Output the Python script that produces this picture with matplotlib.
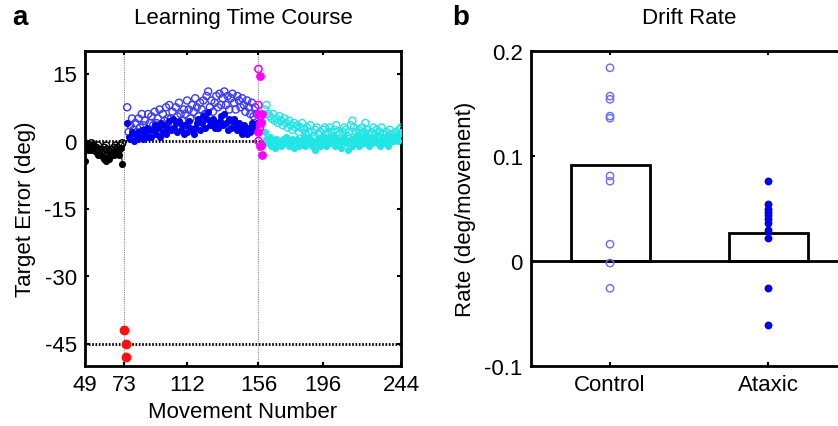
import matplotlib
matplotlib.use("Agg")
import matplotlib.pyplot as plt
import numpy as np

plt.rcParams['font.family'] = ['Liberation Sans', 'DejaVu Sans']
plt.rcParams['font.size'] = 16
plt.rcParams['axes.unicode_minus'] = False

# ---------------- Panel a data ----------------
base_x = list(range(49, 73))
base_ctrl = [-0.5, -1, -1.5, -1, -0.5, -1, -2, -1.5, -1, -2, -2.5, -2, -1.5, -1, -2, -3,
             -2.5, -2, -1.5, -1, -1.5, -2, -1, -0.5]
base_atx = [-4.5, -1, -2, -1.5, -2, -1, -1.5, -2.5, -3, -2, -3, -3.5, -4, -4.5, -3.5, -4,
            -3, -2.5, -3, -2, -2.5, -3, -1.5, -5]

red_x = [73, 74, 74]
red_y = [-42, -45, -48]

learn_x = list(range(75, 156))
learn_ctrl = [7.5, 2, 3.5, 5, 2.5, 4,
              2, 5, 3, 6, 3.5, 4.5, 2.5, 6, 4, 5.5,
              3.5, 6.5, 4, 5, 7, 3.5, 6, 4.5, 7.5, 5,
              8, 5, 6.5, 4, 7.5, 5.5, 8.5, 6, 4.5, 7,
              6, 9, 7, 5, 8, 6.5, 9.5, 7.5, 5.5, 8.5,
              7, 9, 6, 10, 11, 7.5, 9, 6.5, 8.5, 10,
              7.5, 10.5, 8, 9.5, 11, 8, 10, 7, 9.5, 10.5,
              8.5, 7, 10, 9, 7.5, 9.5, 8, 6.5, 9, 7.5,
              6, 8.5, 5.5, 7.5, 6]
learn_atx = [4, 1, 0.5, 2, 0, 1.5,
             0.5, 2, 1, 2.5, 0.5, 1.5, 3, 1, 2.5, 1,
             2.5, 3.5, 1.5, 3, 1, 4, 2, 3.5, 1.5, 3,
             4.5, 2.5, 5, 3, 4, 2, 4.5, 2.5, 3.5, 1.5,
             3.5, 2, 4.5, 3, 2.5, 1.5, 3, 4, 5, 2.5,
             4, 5.5, 3, 5, 6.5, 3.5, 4.5, 5, 3, 4,
             3, 4.5, 5.5, 3.5, 6, 4, 2.5, 5, 3, 4.5,
             5, 3.5, 2.5, 4, 3, 1.5, 3.5, 2, 1.5, 3,
             2, 4, 2.5, 3, 4]

mag_open_x = [156, 156, 157, 158, 157, 156, 158]
mag_open_y = [16, 8, 5.5, 4, 3, 0, -1]
mag_fill_x = [157, 156, 157, 158, 156, 157, 158]
mag_fill_y = [14.5, 6, 4, 6, 2, -1, -3]

wash_x = list(range(160, 245))
wash_ctrl = [7, 8, 6, 5.5, 5, 6, 4.5, 5, 4, 5.5,
             4.5, 3.5, 5, 4, 3, 4.5, 3.5, 2.5, 4, 3,
             3.5, 2, 3, 4, 2.5, 1.5, 3, 2, 3.5, 2,
             1, 2.5, 3, 1.5, 2, 0.5, 2.5, 3, 1.5, 2,
             3, 2, 1, 2.5, 3.5, 2, 1.5, 0, 2, 3,
             2.5, 1, 2, 3.5, 4.5, 3, 2, 1, 2.5, 1.5,
             3, 2, 4, 2.5, 1.5, 0.5, 2, 3, 1.5, 2.5,
             1, 2, 3, 1.5, 0.5, 2, 1, 2.5, 1.5, 0,
             1.5, 2, 1, 2.5, 3]
wash_atx = [2, 0.5, -0.5, 1, -1, 0, -1.5, 0.5, -0.5, 0,
            -1, 0.5, -0.5, 1, 0, -1, -0.5, 0.5, -1.5, 0,
            0.5, -1, 0, -0.5, 1, -1, 0, -0.5, 0.5, -1,
            0, -2, -0.5, 0.5, -1, 0, 1, -0.5, -1, 0.5,
            -0.5, 0, 1, -1, -0.5, 0.5, 0, -1.5, 0, 1,
            -0.5, -2, 0, 0.5, -1, 0, -0.5, 1, -1, 0,
            0.5, -0.5, 1.5, 0, -1, 0.5, -0.5, 0, 1, -0.5,
            0, -1, 0.5, 1, -0.5, 0, -1, 0.5, 1, 0,
            0.5, 1, 0, 1.5, 2]

a_xticks = [49, 73, 112, 156, 196, 244]
a_yticks = [15, 0, -15, -30, -45]

# ---------------- Panel b data ----------------
groups = ["Control", "Ataxic"]
bar_means = [0.091, 0.027]
ctrl_rates = [0.184, 0.157, 0.154, 0.138, 0.136, 0.081, 0.076, 0.016, -0.002, -0.026]
atx_rates = [0.076, 0.054, 0.050, 0.047, 0.044, 0.040, 0.036, 0.030, 0.022, -0.026, -0.061]
b_yticks = [0.2, 0.1, 0, -0.1]
b_yticklabels = ["0.2", "0.1", "0", "-0.1"]

# ---------------- Figure ----------------
W, H = 838, 427
fig = plt.figure(figsize=(W / 100, H / 100), dpi=100)

ax = fig.add_axes([85 / W, (H - 367) / H, 316 / W, 315 / H])
ax.set_xlim(49, 244)
ax.set_ylim(-50, 20)

ax.axvline(73, color='#888888', lw=0.8, ls=(0, (1, 1)), zorder=1)
ax.axvline(156, color='#888888', lw=0.8, ls=(0, (1, 1)), zorder=1)
ax.axhline(0, color='black', lw=2.0, ls=(0, (0.6, 0.6)), zorder=2)
ax.axhline(-45, color='black', lw=2.0, ls=(0, (0.6, 0.6)), zorder=2)

ms = 26
ax.scatter(base_x, base_ctrl, s=ms, facecolors='none', edgecolors='black', lw=1.0, zorder=3)
ax.scatter(base_x, base_atx, s=ms, color='black', lw=0, zorder=3)
ax.plot(base_x, base_ctrl, color='black', lw=0.8, zorder=3)
ax.plot(base_x, base_atx, color='black', lw=0.8, zorder=3)
ax.scatter(red_x, red_y, s=50, color='#ff1010', lw=0, zorder=4)
ax.scatter(learn_x, learn_ctrl, s=ms, facecolors='none', edgecolors='#3a3aff', lw=1.0, zorder=3)
ax.scatter(learn_x, learn_atx, s=ms, color='#0000ee', lw=0, zorder=3)
ax.scatter(wash_x, wash_ctrl, s=ms, facecolors='none', edgecolors='#22e5e5', lw=1.0, zorder=3)
ax.scatter(wash_x, wash_atx, s=ms, color='#22e5e5', lw=0, zorder=3)
ax.scatter(mag_open_x, mag_open_y, s=ms, facecolors='none', edgecolors='#ff00ff', lw=1.2, zorder=4)
ax.scatter(mag_fill_x, mag_fill_y, s=40, color='#ff00ff', lw=0, zorder=4)

ax.set_xticks(a_xticks)
ax.set_yticks(a_yticks)
ax.tick_params(direction='in', length=3, width=1.5, top=True, right=True, pad=6)
for s in ax.spines.values():
    s.set_linewidth(2)
ax.set_title("Learning Time Course", fontsize=16, pad=20)
ax.set_xlabel("Movement Number", fontsize=16, labelpad=4)
ax.set_ylabel("Target Error (deg)", fontsize=16, labelpad=6)

# Panel b
bx = fig.add_axes([531 / W, (H - 367) / H, 316 / W, 315 / H])
pos = [1, 2]
bx.bar(pos, bar_means, width=0.5, facecolor='white', edgecolor='black', lw=2, zorder=2)
bx.axhline(0, color='black', lw=2, zorder=2)
bx.scatter([pos[0]] * len(ctrl_rates), ctrl_rates, s=28, facecolors='none',
           edgecolors='#6a6aff', lw=1.0, zorder=3)
bx.scatter([pos[1]] * len(atx_rates), atx_rates, s=32, color='#0000ee', lw=0, zorder=3)
bx.set_xlim(0.5, 2.5)
bx.set_ylim(-0.1, 0.2)
bx.set_xticks(pos)
bx.set_xticklabels(groups)
bx.set_yticks(b_yticks)
bx.set_yticklabels(b_yticklabels)
bx.tick_params(direction='in', length=3, width=1.5, top=True, right=True, pad=6)
for s in bx.spines.values():
    s.set_linewidth(2)
bx.set_title("Drift Rate", fontsize=16, pad=20)
bx.set_ylabel("Rate (deg/movement)", fontsize=16, labelpad=6)

fig.text(12 / W, 1 - 18 / H, "a", fontsize=20, fontweight='bold', va='center', ha='left')
fig.text(452 / W, 1 - 18 / H, "b", fontsize=20, fontweight='bold', va='center', ha='left')

fig.savefig("out.png", dpi=100)
